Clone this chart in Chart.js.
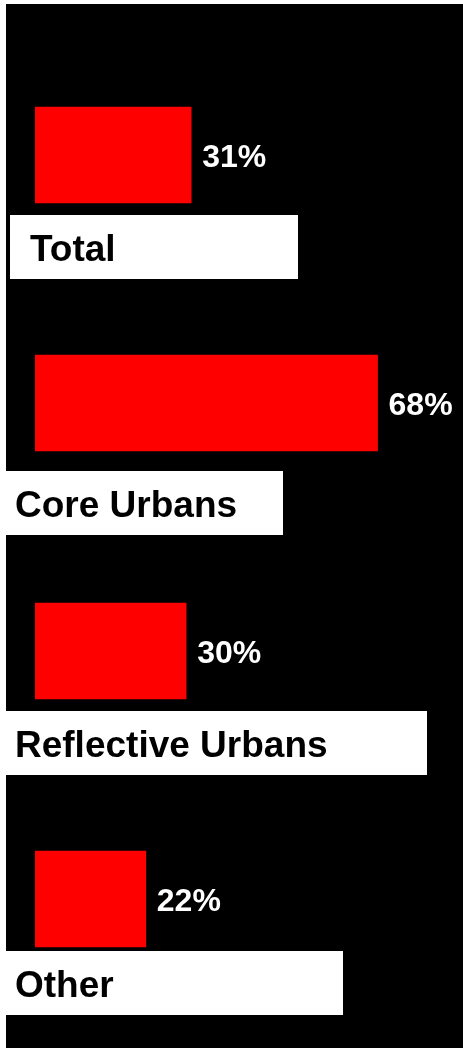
<!DOCTYPE html>
<html>
<head>
<meta charset="utf-8">
<script src="https://cdn.jsdelivr.net/npm/chart.js@4/dist/chart.umd.min.js"></script>
<style>
    html, body { margin: 0; padding: 0; background: #fff; }
    canvas { display: block; }
</style>
</head>
<body>
<canvas id="segments" width="463" height="1048"></canvas>
<script>
const segments = ['Total', 'Core Urbans', 'Reflective Urbans', 'Other'];
const shares = [31, 68, 30, 22];

// white name plates under each bar: gap below the bar, left and right edges
const plates = [
    { gap: 12, left: 10, right: 298, indent: 20 },
    { gap: 20, left: 6, right: 283, indent: 9 },
    { gap: 12, left: 6, right: 427, indent: 9 },
    { gap: 4, left: 6, right: 343, indent: 9 }
];

const FONT = '"Liberation Sans", Arial, Helvetica, sans-serif';

const backdrop = {
    id: 'backdrop',
    beforeDraw(chart) {
        const ctx = chart.ctx;
        ctx.save();
        ctx.fillStyle = '#ffffff';
        ctx.fillRect(0, 0, chart.width, chart.height);
        ctx.fillStyle = '#000000';
        ctx.fillRect(6, 4, chart.width - 6, chart.height - 4);
        ctx.restore();
    }
};

const barLabels = {
    id: 'barLabels',
    afterDatasetsDraw(chart) {
        const ctx = chart.ctx;
        const meta = chart.getDatasetMeta(0);
        ctx.save();
        meta.data.forEach((bar, i) => {
            const bottom = bar.y + bar.height / 2;
            const p = plates[i];

            // value next to the bar end
            ctx.fillStyle = '#ffffff';
            ctx.font = 'bold 32px ' + FONT;
            ctx.textBaseline = 'alphabetic';
            ctx.textAlign = 'left';
            ctx.fillText(shares[i] + '%', bar.x + 11, bar.y + 12);

            // name plate
            const top = bottom + p.gap;
            ctx.fillStyle = '#ffffff';
            ctx.fillRect(p.left, top, p.right - p.left, 64);
            ctx.fillStyle = '#000000';
            ctx.font = 'bold 37px ' + FONT;
            ctx.fillText(segments[i], p.left + p.indent, top + 46);
        });
        ctx.restore();
    }
};

new Chart(document.getElementById('segments'), {
    type: 'bar',
    data: {
        labels: segments,
        datasets: [{
            data: shares,
            backgroundColor: '#ff0000',
            borderWidth: 0,
            barThickness: 96
        }]
    },
    options: {
        indexAxis: 'y',
        responsive: false,
        animation: false,
        devicePixelRatio: 1,
        layout: {
            padding: { left: 35, right: 25, top: 31, bottom: 25 }
        },
        scales: {
            x: { display: false, min: 0, max: 80 },
            y: { display: false, offset: true }
        },
        plugins: {
            legend: { display: false },
            tooltip: { enabled: false }
        }
    },
    plugins: [backdrop, barLabels]
});
</script>
</body>
</html>
